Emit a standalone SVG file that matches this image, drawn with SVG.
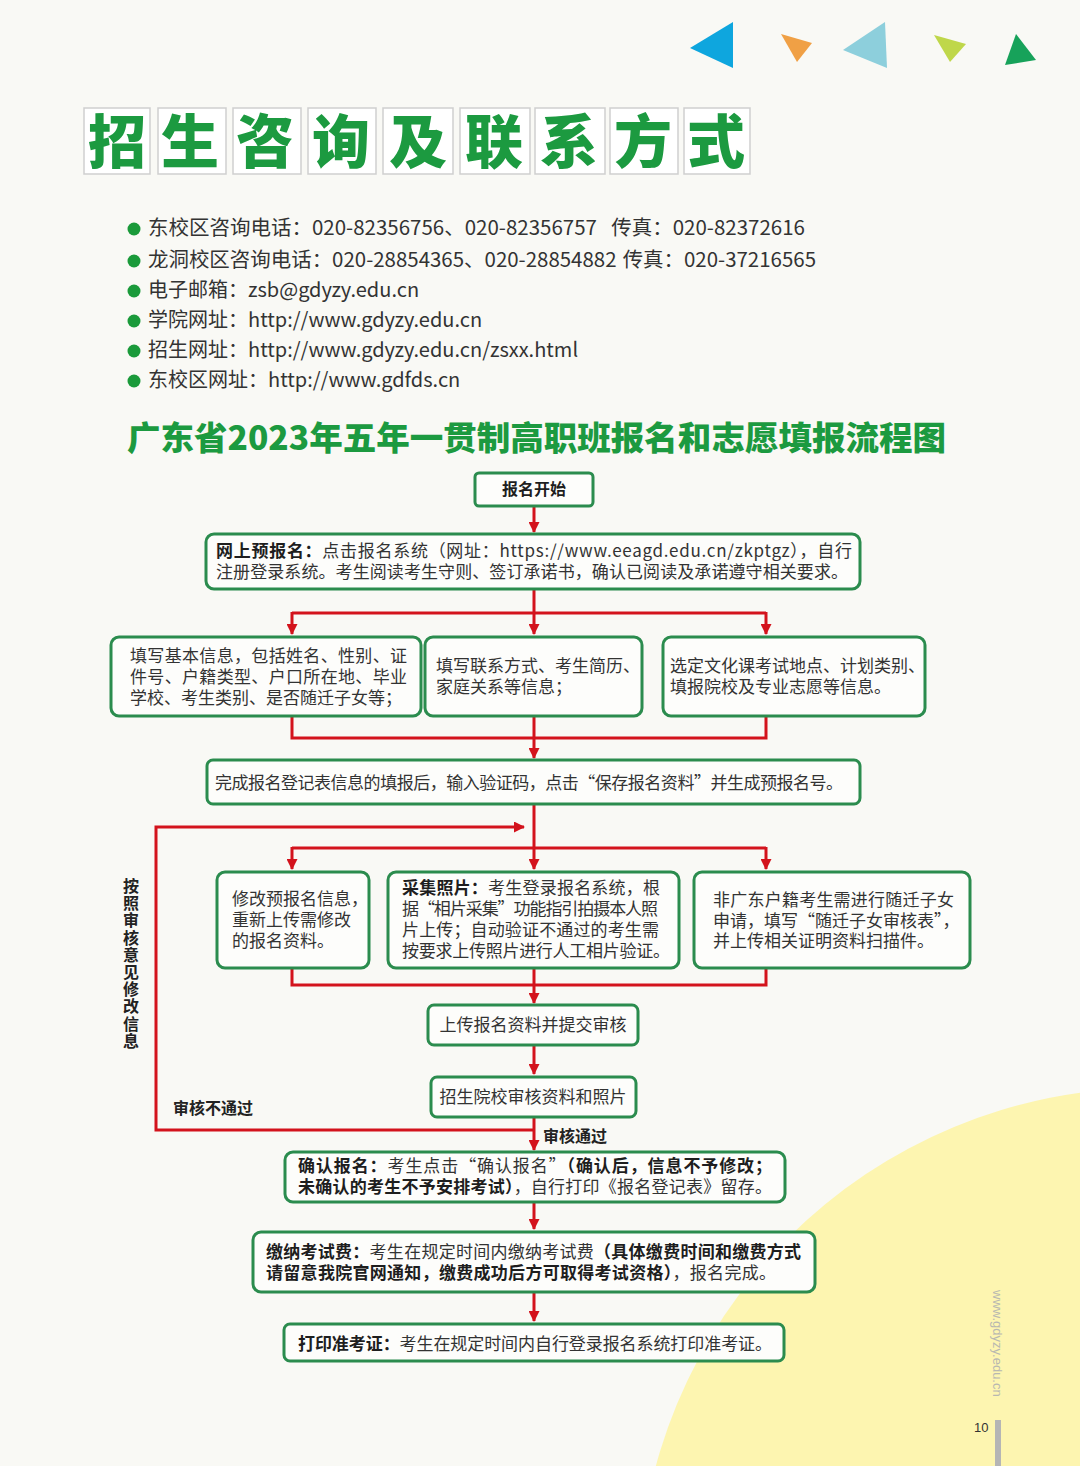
<svg xmlns="http://www.w3.org/2000/svg" width="1080" height="1466" viewBox="0 0 1080 1466">
<defs>
<marker id="ah" markerUnits="userSpaceOnUse" markerWidth="11" markerHeight="11" refX="10" refY="5.5" orient="auto">
<path d="M0,0 L11,5.5 L0,11 z" fill="#d3131c"/>
</marker>
<style>
.bg{fill:#f9f9f5}
.tbox{fill:#ffffff;stroke:#cfcfcf;stroke-width:1.5}
.tch{font-family:"Noto Sans CJK SC",sans-serif;font-weight:900;font-size:58px;fill:#1c9a40;text-anchor:middle}
.ct{font-family:"Noto Sans CJK SC",sans-serif;font-size:20px;fill:#333}
.dot{fill:#1a9a3a}
.h2{font-family:"Noto Sans CJK SC",sans-serif;font-weight:900;font-size:33px;fill:#1c9a40}
.nb{fill:#fdfdfb;stroke:#2b8c4e;stroke-width:3}
.t{font-family:"Noto Sans CJK SC",sans-serif;font-size:17px;fill:#333}
.b{font-weight:700;fill:#1e1e1e}
.lbl{font-family:"Noto Sans CJK SC",sans-serif;font-size:16px;font-weight:700;fill:#222}
.c{fill:none;stroke:#d3131c;stroke-width:3}
.ca{fill:none;stroke:#d3131c;stroke-width:3;marker-end:url(#ah)}
</style>
</defs>
<rect class="bg" x="0" y="0" width="1080" height="1466"/>
<circle cx="1150" cy="1600" r="512" fill="#fdf5b0"/>

<g id="triangles">
<polygon points="690,48 733,22 733,68" fill="#0ea6de"/>
<polygon points="781,34 812,43 797,62" fill="#f0a045"/>
<polygon points="843,50 885,22 887,68" fill="#8dcfdc"/>
<polygon points="934,35 966,44 950,62" fill="#bfd74a"/>
<polygon points="1016,34 1036,60 1005,65" fill="#17a25a"/>
</g>

<g id="title">
<rect class="tbox" x="84" y="108" width="66" height="66"/>
<rect class="tbox" x="158" y="108" width="68" height="66"/>
<rect class="tbox" x="233" y="108" width="68" height="66"/>
<rect class="tbox" x="308" y="108" width="68" height="66"/>
<rect class="tbox" x="383" y="108" width="70" height="66"/>
<rect class="tbox" x="460" y="108" width="70" height="66"/>
<rect class="tbox" x="535" y="108" width="70" height="66"/>
<rect class="tbox" x="610" y="108" width="68" height="66"/>
<rect class="tbox" x="684" y="108" width="66" height="66"/>
<text class="tch" x="117" y="163">招</text>
<text class="tch" x="190" y="163">生</text>
<text class="tch" x="265" y="163">咨</text>
<text class="tch" x="341" y="163">询</text>
<text class="tch" x="418" y="163">及</text>
<text class="tch" x="494" y="163">联</text>
<text class="tch" x="569" y="163">系</text>
<text class="tch" x="643" y="163">方</text>
<text class="tch" x="716" y="163">式</text>
</g>

<g id="contacts">
<circle class="dot" cx="134" cy="229" r="6.5"/>
<circle class="dot" cx="134" cy="261" r="6.5"/>
<circle class="dot" cx="134" cy="291" r="6.5"/>
<circle class="dot" cx="134" cy="321" r="6.5"/>
<circle class="dot" cx="134" cy="351" r="6.5"/>
<circle class="dot" cx="134" cy="381" r="6.5"/>
<text class="ct" x="148" y="235" textLength="657" lengthAdjust="spacingAndGlyphs">东校区咨询电话：020-82356756、020-82356757<tspan dx="14">传真：020-82372616</tspan></text>
<text class="ct" x="148" y="267" textLength="668" lengthAdjust="spacingAndGlyphs">龙洞校区咨询电话：020-28854365、020-28854882<tspan dx="6">传真：020-37216565</tspan></text>
<text class="ct" x="148" y="297">电子邮箱：zsb@gdyzy.edu.cn</text>
<text class="ct" x="148" y="327">学院网址：http://www.gdyzy.edu.cn</text>
<text class="ct" x="148" y="357">招生网址：http://www.gdyzy.edu.cn/zsxx.html</text>
<text class="ct" x="148" y="387">东校区网址：http://www.gdfds.cn</text>
</g>

<text id="flow-title" class="h2" x="127" y="450" textLength="819" lengthAdjust="spacingAndGlyphs">广东省2023年五年一贯制高职班报名和志愿填报流程图</text>

<g id="connectors">
<path class="ca" d="M534,506 V532"/>
<path class="ca" d="M534,590 V634"/>
<path class="c" d="M292,613 H766"/>
<path class="ca" d="M292,612 V634"/>
<path class="ca" d="M766,612 V634"/>
<path class="c" d="M292,717 V738 H766 V717"/>
<path class="ca" d="M534,717 V758"/>
<path class="ca" d="M534,805 V869"/>
<path class="c" d="M292,848 H766"/>
<path class="ca" d="M292,847 V869"/>
<path class="ca" d="M766,847 V869"/>
<path class="ca" d="M534,1130 H156 V827 H524"/>
<path class="c" d="M292,968 V985 H766 V968"/>
<path class="ca" d="M534,969 V1003"/>
<path class="ca" d="M534,1046 V1074"/>
<path class="ca" d="M534,1118 V1150"/>
<path class="ca" d="M534,1203 V1229"/>
<path class="ca" d="M534,1293 V1321"/>
</g>

<g id="labels">
<text class="lbl" x="173" y="1114">审核不通过</text>
<text class="lbl" x="543" y="1142">审核通过</text>
<text class="lbl" x="131" y="878" style="writing-mode:vertical-rl;letter-spacing:1.2px">按照审核意见修改信息</text>
</g>

<g id="n-start">
<rect class="nb" x="475" y="473" width="118" height="33" rx="4"/>
<text class="t b" x="534" y="495" text-anchor="middle" style="font-size:16px">报名开始</text>
</g>

<g id="n-pre">
<rect class="nb" x="206" y="534" width="654" height="55" rx="8"/>
<text class="t" x="216" y="557" textLength="636" lengthAdjust="spacing"><tspan class="b">网上预报名：</tspan>点击报名系统（网址：https://www.eeagd.edu.cn/zkptgz），自行</text>
<text class="t" x="216" y="578" textLength="632" lengthAdjust="spacing">注册登录系统。考生阅读考生守则、签订承诺书，确认已阅读及承诺遵守相关要求。</text>
</g>

<g id="n-basic">
<rect class="nb" x="111" y="637" width="310" height="79" rx="8"/>
<text class="t" x="130" y="662" textLength="277" lengthAdjust="spacing">填写基本信息，包括姓名、性别、证</text>
<text class="t" x="130" y="683" textLength="277" lengthAdjust="spacing">件号、户籍类型、户口所在地、毕业</text>
<text class="t" x="130" y="704">学校、考生类别、是否随迁子女等；</text>
</g>

<g id="n-contact">
<rect class="nb" x="425" y="637" width="217" height="79" rx="8"/>
<text class="t" x="436" y="672">填写联系方式、考生简历、</text>
<text class="t" x="436" y="693">家庭关系等信息；</text>
</g>

<g id="n-choice">
<rect class="nb" x="663" y="637" width="262" height="79" rx="8"/>
<text class="t" x="670" y="672">选定文化课考试地点、计划类别、</text>
<text class="t" x="670" y="693">填报院校及专业志愿等信息。</text>
</g>

<g id="n-save">
<rect class="nb" x="207" y="760" width="653" height="44" rx="6"/>
<text class="t" x="215" y="789" textLength="628" lengthAdjust="spacing">完成报名登记表信息的填报后，输入验证码，点击“保存报名资料”并生成预报名号。</text>
</g>

<g id="n-modify">
<rect class="nb" x="217" y="872" width="152" height="96" rx="8"/>
<text class="t" x="232" y="905">修改预报名信息，</text>
<text class="t" x="232" y="926">重新上传需修改</text>
<text class="t" x="232" y="947">的报名资料。</text>
</g>

<g id="n-photo">
<rect class="nb" x="388" y="872" width="291" height="96" rx="8"/>
<text class="t" x="402" y="894" textLength="258" lengthAdjust="spacing"><tspan class="b">采集照片：</tspan>考生登录报名系统，根</text>
<text class="t" x="402" y="915" textLength="256" lengthAdjust="spacing">据“相片采集”功能指引拍摄本人照</text>
<text class="t" x="402" y="936" textLength="257" lengthAdjust="spacing">片上传；自动验证不通过的考生需</text>
<text class="t" x="402" y="957" textLength="268" lengthAdjust="spacing">按要求上传照片进行人工相片验证。</text>
</g>

<g id="n-migrant">
<rect class="nb" x="694" y="872" width="276" height="96" rx="8"/>
<text class="t" x="713" y="906" textLength="241" lengthAdjust="spacing">非广东户籍考生需进行随迁子女</text>
<text class="t" x="713" y="927">申请，填写“随迁子女审核表”，</text>
<text class="t" x="713" y="947">并上传相关证明资料扫描件。</text>
</g>

<g id="n-upload">
<rect class="nb" x="428" y="1005" width="210" height="40" rx="6"/>
<text class="t" x="533" y="1031" text-anchor="middle">上传报名资料并提交审核</text>
</g>

<g id="n-review">
<rect class="nb" x="431" y="1077" width="205" height="40" rx="6"/>
<text class="t" x="533" y="1103" text-anchor="middle">招生院校审核资料和照片</text>
</g>

<g id="n-confirm">
<rect class="nb" x="285" y="1152" width="500" height="50" rx="8"/>
<text class="t" x="298" y="1172" textLength="474" lengthAdjust="spacing"><tspan class="b">确认报名：</tspan>考生点击“确认报名”<tspan class="b">（确认后，信息不予修改；</tspan></text>
<text class="t" x="298" y="1193" textLength="474" lengthAdjust="spacing"><tspan class="b">未确认的考生不予安排考试）</tspan>，自行打印《报名登记表》留存。</text>
</g>

<g id="n-fee">
<rect class="nb" x="253" y="1232" width="562" height="60" rx="8"/>
<text class="t" x="266" y="1258" textLength="535" lengthAdjust="spacing"><tspan class="b">缴纳考试费：</tspan>考生在规定时间内缴纳考试费<tspan class="b">（具体缴费时间和缴费方式</tspan></text>
<text class="t" x="266" y="1279" textLength="510" lengthAdjust="spacing"><tspan class="b">请留意我院官网通知，缴费成功后方可取得考试资格）</tspan>，报名完成。</text>
</g>

<g id="n-ticket">
<rect class="nb" x="284" y="1324" width="500" height="37" rx="6"/>
<text class="t" x="298" y="1350" textLength="474" lengthAdjust="spacing"><tspan class="b">打印准考证：</tspan>考生在规定时间内自行登录报名系统打印准考证。</text>
</g>

<g id="footer">
<text x="993" y="1290" transform="rotate(90 993 1290)" style="font-family:'Liberation Sans',sans-serif;font-size:13px;fill:#b8b8b0">www.gdyzy.edu.cn</text>
<text x="974" y="1432" style="font-family:'Liberation Sans',sans-serif;font-size:13px;fill:#333">10</text>
<rect x="995" y="1420" width="6" height="46" fill="#b5b5b5"/>
</g>
</svg>
